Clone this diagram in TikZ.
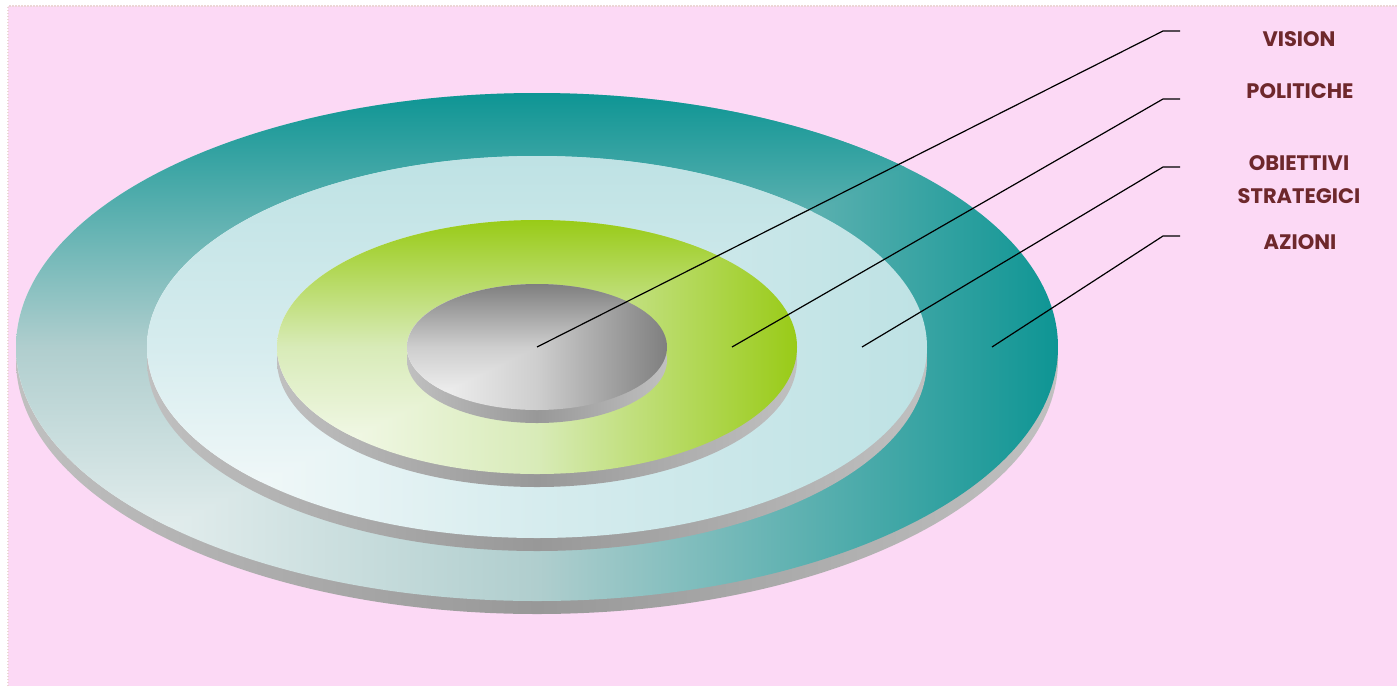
\documentclass[tikz,border=0pt]{standalone}
\usepackage{fontspec}
\setmainfont{Poppins}
\usetikzlibrary{positioning}
\definecolor{bgpink}{RGB}{252,217,245}
\definecolor{bgedge}{RGB}{236,214,214}
\definecolor{labelred}{RGB}{110,40,44}
\definecolor{tealA}{RGB}{246,249,249}
\definecolor{tealB}{RGB}{176,206,206}
\definecolor{tealC}{RGB}{14,149,148}
\definecolor{cyanA}{RGB}{250,252,252}
\definecolor{cyanB}{RGB}{214,236,238}
\definecolor{cyanC}{RGB}{190,226,228}
\definecolor{greenA}{RGB}{250,252,246}
\definecolor{greenB}{RGB}{216,235,184}
\definecolor{greenC}{RGB}{153,203,23}
\definecolor{grayA}{RGB}{250,250,250}
\definecolor{grayB}{RGB}{206,206,206}
\definecolor{grayC}{RGB}{127,127,127}
\definecolor{rimlight}{RGB}{192,192,192}
\definecolor{rimdark}{RGB}{152,152,152}

\begin{document}
\begin{tikzpicture}[
    x=1pt, y=-1pt,
    ringlabel/.style={font=\fontsize{21}{33}\selectfont\bfseries, text=labelred, align=center},
    leader/.style={draw=black, line width=1.2pt},
    rim/.style={left color=rimlight, right color=rimlight, middle color=rimdark}
]
    \useasboundingbox (0,0) rectangle (1397,686);
    \fill[bgpink] (8,6) rectangle (1397,686);
    \draw[bgedge, line width=1.2pt, dash pattern=on 1.5pt off 1.5pt] (8,686) -- (8,6) -- (1397,6);

    % discs, largest first: rim, then the face shaded from its lower left corner
    \foreach \cx/\cy/\rx/\ry/\clo/\cmid/\chi in {
        537/347/521/254/tealA/tealB/tealC,
        537/347/390/191/cyanA/cyanB/cyanC,
        537/347/260/127/greenA/greenB/greenC,
        537/347/130/63/grayA/grayB/grayC} {
        \shade[rim] (\cx,\cy+13) ellipse ({\rx} and {\ry});
        \begin{scope}
            \clip (\cx,\cy) ellipse ({\rx} and {\ry});
            \shade[left color=\clo, right color=\chi, middle color=\cmid]
                (\cx-\rx,\cy-\ry) rectangle (\cx+\rx,\cy+\ry);
            \clip (\cx-\rx,\cy+\ry) -- (\cx-\rx,\cy-\ry) -- (\cx+\rx,\cy-\ry) -- cycle;
            \shade[bottom color=\clo, top color=\chi, middle color=\cmid]
                (\cx-\rx,\cy-\ry) rectangle (\cx+\rx,\cy+\ry);
        \end{scope}
    }

    \node[ringlabel] (vision) at (1299,39) {VISION};
    \node[ringlabel] (politiche) at (1300,91) {POLITICHE};
    \node[ringlabel] (obiettivi) at (1299,180) {OBIETTIVI\\STRATEGICI};
    \node[ringlabel] (azioni) at (1300,242) {AZIONI};

    \foreach \n/\px/\py in {vision/537/31, politiche/732/99, obiettivi/862/167, azioni/992/236} {
        \coordinate (disc-\n) at (\px,347);
        \coordinate (end-\n) at (1180,\py);
        \draw[leader] (disc-\n) -- ([xshift=-17pt]end-\n) -- (end-\n);
    }
\end{tikzpicture}
\end{document}
